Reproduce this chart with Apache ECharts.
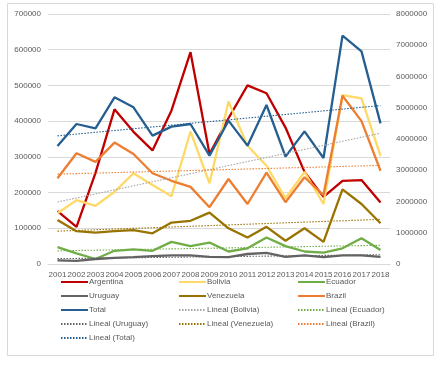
<!DOCTYPE html>
<html><head><meta charset="utf-8">
<script src="https://cdn.jsdelivr.net/npm/echarts@6/dist/echarts.min.js"></script>
<style>html,body{margin:0;padding:0;background:#fff}#c{width:444px;height:369px}</style>
</head><body><div id="c"></div>
<script>
const years = ['2001','2002','2003','2004','2005','2006','2007','2008','2009','2010','2011','2012','2013','2014','2015','2016','2017','2018'];
const argentina = [148000,104000,255000,433000,370000,318000,430000,593000,308000,408000,500000,478000,382000,258000,188000,233000,235000,172000];
const bolivia   = [142000,179000,163000,202000,254000,221000,190000,371000,226000,455000,331000,275000,184000,258000,168000,473000,464000,303000];
const ecuador   = [47000,30000,14000,37000,41000,37000,62000,50000,60000,35000,44000,74000,50000,35000,32000,44000,72000,39000];
const uruguay   = [10000,9000,14000,17000,19000,22000,24000,24000,20000,19000,28000,31000,20000,24000,19000,24000,24000,20000];
const venezuela = [123000,92000,88000,92000,95000,86000,116000,121000,144000,100000,74000,104000,65000,100000,62000,209000,168000,114000];
const brazil    = [240000,310000,286000,340000,308000,254000,233000,216000,159000,238000,168000,256000,173000,243000,193000,471000,400000,261000];
const total     = [3776000,4480000,4342000,5333000,5013000,4107000,4395000,4480000,3466000,4587000,3787000,5088000,3435000,4245000,3392000,7307000,6805000,4501000];
const leftTicks = [0,100000,200000,300000,400000,500000,600000,700000];
const rightTicks = [0,1000000,2000000,3000000,4000000,5000000,6000000,7000000,8000000];

function trend(arr){
  const n=arr.length; let sx=0,sy=0,sxx=0,sxy=0;
  arr.forEach((v,i)=>{sx+=i;sy+=v;sxx+=i*i;sxy+=i*v;});
  const b=(n*sxy-sx*sy)/(n*sxx-sx*sx), a=(sy-b*sx)/n;
  return arr.map((_,i)=>a+b*i);
}
const C={arg:'#C00000',bol:'#FFD966',ecu:'#70AD47',uru:'#636363',ven:'#997300',bra:'#ED7D31',tot:'#255E91',bolT:'#A5A5A5'};
function solid(name,data,color,axis){return {name,type:'line',data,yAxisIndex:axis||0,symbol:'none',showSymbol:false,lineStyle:{color,width:2.3},itemStyle:{color},z:3};}
function dot(name,data,color,axis){return {name,type:'line',data:trend(data),yAxisIndex:axis||0,symbol:'none',showSymbol:false,lineStyle:{color,width:1.1,type:[1.5,1.5]},itemStyle:{color},z:4,silent:true};}
const txt={color:'#595959',fontFamily:'Liberation Sans',fontSize:8};
const legendBase={orient:'vertical',itemWidth:27,itemHeight:10,itemGap:6,padding:0,itemStyle:{opacity:0},
  textStyle:Object.assign({},txt,{padding:[0,0,0,-4]}),top:278};
const fmt=v=>String(v);
const chart=echarts.init(document.getElementById('c'),null,{renderer:'canvas'});
chart.setOption({
  animation:false,
  backgroundColor:'#fff',
  graphic:[{type:'rect',shape:{x:7.5,y:3.5,width:426,height:352},style:{fill:'none',stroke:'#D9D9D9',lineWidth:1},z:-1}],
  grid:{left:48,right:54,top:14,bottom:105},
  legend:[
    Object.assign({},legendBase,{left:60,data:['Argentina','Uruguay','Total','Lineal (Uruguay)','Lineal (Total)']}),
    Object.assign({},legendBase,{left:178,data:['Bolivia','Venezuela','Lineal (Bolivia)','Lineal (Venezuela)']}),
    Object.assign({},legendBase,{left:297,data:['Ecuador','Brazil','Lineal (Ecuador)','Lineal (Brazil)']})
  ],
  xAxis:{type:'category',data:years,boundaryGap:true,axisLine:{lineStyle:{color:'#D9D9D9'}},axisTick:{show:false},
    axisLabel:Object.assign({},txt,{interval:0,margin:7})},
  yAxis:[
    {type:'value',min:leftTicks[0],max:leftTicks[leftTicks.length-1],interval:100000,axisLine:{show:false},axisTick:{show:false},
      splitLine:{lineStyle:{color:'#D9D9D9',width:1}},axisLabel:Object.assign({},txt,{margin:7,formatter:fmt})},
    {type:'value',min:rightTicks[0],max:rightTicks[rightTicks.length-1],interval:1000000,axisLine:{show:false},axisTick:{show:false},
      splitLine:{show:false},axisLabel:Object.assign({},txt,{margin:6,formatter:fmt})}
  ],
  series:[
    solid('Argentina',argentina,C.arg),
    solid('Bolivia',bolivia,C.bol),
    solid('Ecuador',ecuador,C.ecu),
    solid('Uruguay',uruguay,C.uru),
    solid('Venezuela',venezuela,C.ven),
    solid('Brazil',brazil,C.bra),
    solid('Total',total,C.tot,1),
    dot('Lineal (Bolivia)',bolivia,C.bolT),
    dot('Lineal (Ecuador)',ecuador,C.ecu),
    dot('Lineal (Uruguay)',uruguay,C.uru),
    dot('Lineal (Venezuela)',venezuela,C.ven),
    dot('Lineal (Brazil)',brazil,C.bra),
    dot('Lineal (Total)',total,C.tot,1)
  ]
});
</script></body></html>
